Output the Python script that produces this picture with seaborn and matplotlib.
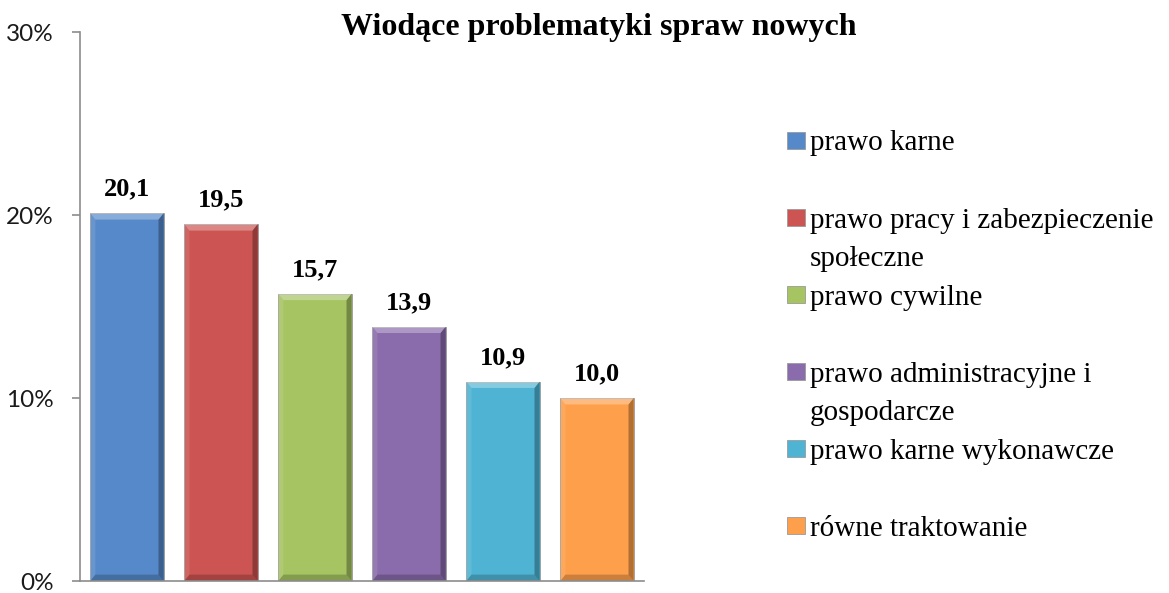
import matplotlib
matplotlib.use("Agg")
import matplotlib.pyplot as plt
import seaborn as sns
from matplotlib.patches import Patch, Polygon
from matplotlib.ticker import FuncFormatter

# data
categories = ["prawo karne",
              "prawo pracy i zabezpieczenie\nspołeczne",
              "prawo cywilne",
              "prawo administracyjne i\ngospodarcze",
              "prawo karne wykonawcze",
              "równe traktowanie"]
values = [20.1, 19.5, 15.7, 13.9, 10.9, 10.0]
value_labels = ["20,1", "19,5", "15,7", "13,9", "10,9", "10,0"]
colors = ["#5689C9", "#CC5452", "#A6C462", "#8A6BAB", "#4FB4D3", "#FE9F4B"]
yticks = [0, 10, 20, 30]
title = "Wiodące problematyki spraw nowych"

sns.set_style("white")
plt.rcParams["font.family"] = ["Liberation Serif", "DejaVu Serif"]
plt.rcParams["text.color"] = "black"

fig = plt.figure(figsize=(11.69, 5.93), dpi=100)
ax = fig.add_axes([0.0684, 0.0202, 0.4825, 0.9258])

sns.barplot(x=categories, y=values, hue=categories, palette=colors,
            legend=False, width=0.78, saturation=1, ax=ax)

# simple bevel look: darker right side, lighter top strip
for p, c in zip(ax.patches, colors):
    x0, y0 = p.get_x(), p.get_y()
    w, h = p.get_width(), p.get_height()
    dx, dy = w * 0.07, 0.35
    p.set_edgecolor("#9a9a9a")
    p.set_linewidth(0.6)
    ax.add_patch(Polygon([(x0 + w - dx, y0 + dy), (x0 + w, y0), (x0 + w, y0 + h),
                          (x0 + w - dx, y0 + h - dy)], closed=True,
                         facecolor="black", alpha=0.3, lw=0))
    ax.add_patch(Polygon([(x0, y0 + h), (x0 + w, y0 + h), (x0 + w - dx, y0 + h - dy),
                          (x0 + dx, y0 + h - dy)], closed=True,
                         facecolor="white", alpha=0.3, lw=0))
    ax.add_patch(Polygon([(x0, y0), (x0 + dx, y0 + dy), (x0 + dx, y0 + h - dy),
                          (x0, y0 + h)], closed=True,
                         facecolor="white", alpha=0.1, lw=0))
    ax.add_patch(Polygon([(x0, y0), (x0 + w, y0), (x0 + w - dx, y0 + dy),
                          (x0 + dx, y0 + dy)], closed=True,
                         facecolor="black", alpha=0.2, lw=0))

for i, (v, lab) in enumerate(zip(values, value_labels)):
    ax.annotate(lab, (i, v), xytext=(0, 9), textcoords="offset points",
                ha="center", va="bottom", fontsize=19, fontweight="bold",
                color="black")

ax.set_xlim(-0.5, len(values) - 0.5)
ax.set_ylim(0, 30)
ax.set_yticks(yticks)
ax.yaxis.set_major_formatter(FuncFormatter(lambda v, _: f"{v:.0f}%"))
ax.set_xticks([])
ax.set_xlabel("")
ax.set_ylabel("")
for lab in ax.get_yticklabels():
    lab.set_fontfamily("Lato")
    lab.set_fontsize(17.5)
    lab.set_color("#1a1a1a")
ax.tick_params(axis="y", left=True, direction="out", length=6, width=1.2,
               color="#8c8c8c", pad=13)
sns.despine(ax=ax)
for s in ("left", "bottom"):
    ax.spines[s].set_color("#8c8c8c")
    ax.spines[s].set_linewidth(1.2)

fig.text(0.512, 0.978, title, ha="center", va="top", fontsize=23,
         fontweight="bold", color="black")

# legend rows: one handle per category, blank rows keep the spacing even
handles, labels = [], []
for cat, c in zip(categories, colors):
    lines = cat.split("\n")
    handles.append(Patch(facecolor=c, edgecolor="#9a9a9a", lw=0.6))
    labels.append(lines[0])
    rest = lines[1:] if len(lines) > 1 else [" "]
    for line in rest:
        handles.append(Patch(facecolor="none", edgecolor="none"))
        labels.append(line)

leg = fig.legend(handles, labels, loc="upper left", bbox_to_anchor=(0.673, 0.780),
                 frameon=False, fontsize=21, handlelength=0.62, handleheight=0.52,
                 handletextpad=0.17, labelspacing=0.43, borderpad=0, borderaxespad=0)
for t in leg.get_texts():
    t.set_color("black")

fig.savefig("out.png", dpi=100)
